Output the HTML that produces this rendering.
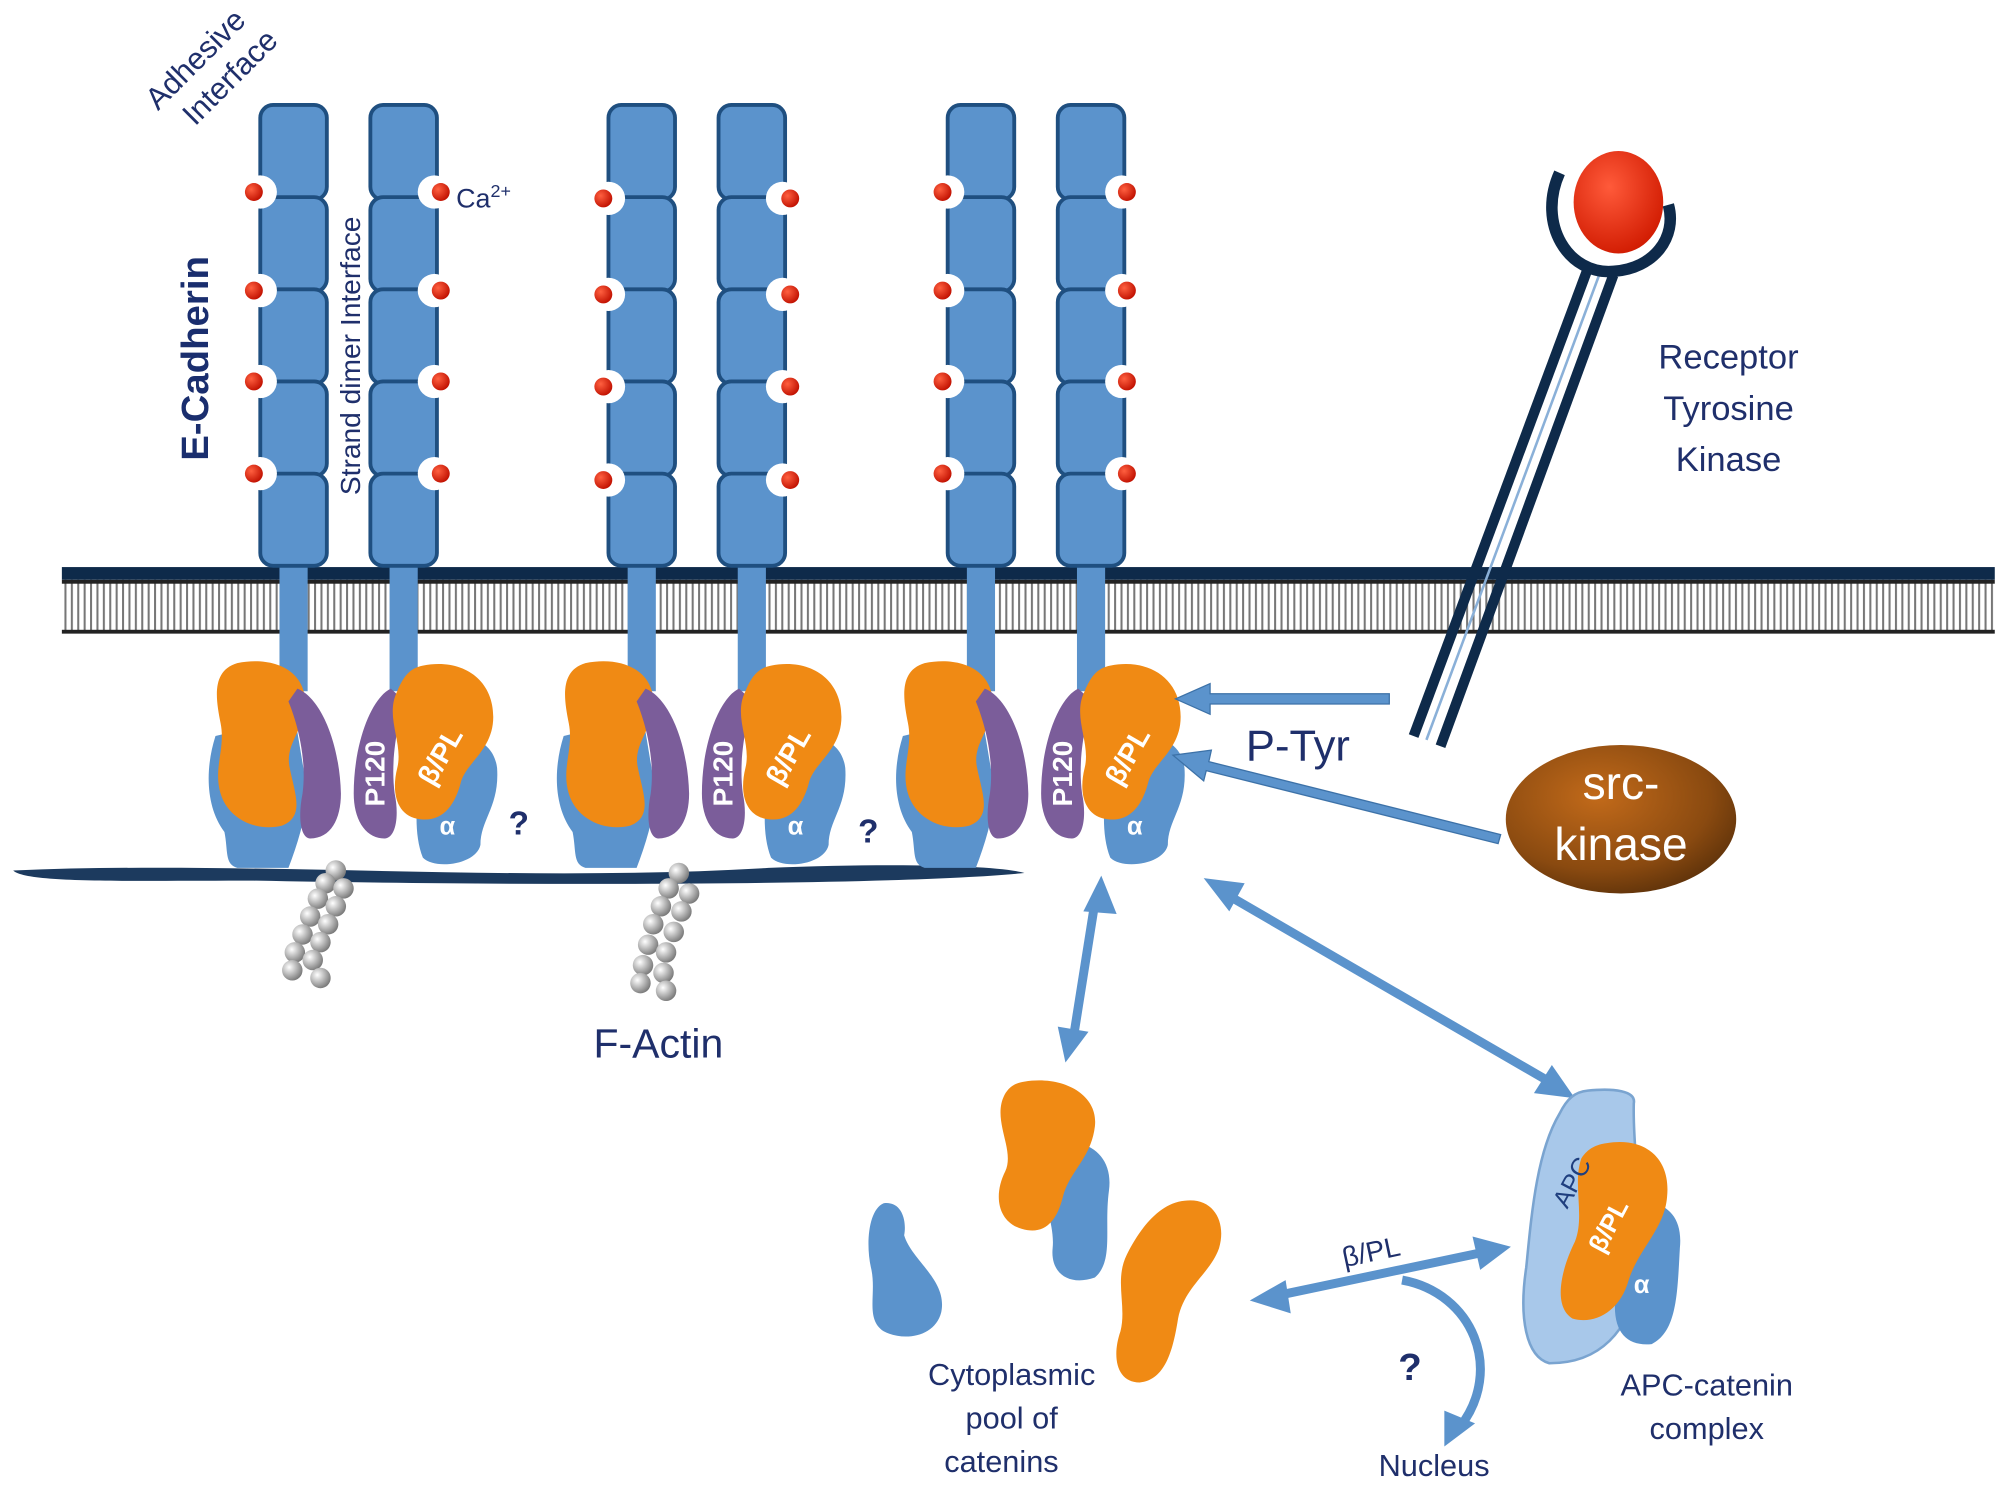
<!DOCTYPE html>
<html><head><meta charset="utf-8"><style>
html,body{margin:0;padding:0;background:#fff}
svg{display:block}
text{font-family:"Liberation Sans","DejaVu Sans",sans-serif;fill:#1f2f6b}
</style></head><body>
<svg width="2008" height="1490" viewBox="0 0 1568 1164" xmlns="http://www.w3.org/2000/svg">
<defs>
<pattern id="hatch" width="5" height="10" patternUnits="userSpaceOnUse">
<rect width="5" height="10" fill="#fff"/><rect x="0" width="1.6" height="10" fill="#777"/>
</pattern>
<radialGradient id="src" cx=".4" cy=".35" r=".7"><stop offset="0" stop-color="#c26a1a"/><stop offset=".7" stop-color="#8a4a10"/><stop offset="1" stop-color="#5e320a"/></radialGradient>
<radialGradient id="red" cx=".4" cy=".35" r=".7"><stop offset="0" stop-color="#ff5a3a"/><stop offset="1" stop-color="#d01a00"/></radialGradient>
<radialGradient id="dot" cx=".35" cy=".35" r=".7"><stop offset="0" stop-color="#ff6040"/><stop offset="1" stop-color="#c01000"/></radialGradient>
<radialGradient id="bead" cx=".35" cy=".35" r=".7"><stop offset="0" stop-color="#fff"/><stop offset="1" stop-color="#777"/></radialGradient>
<g id="col">
<rect x="-26" y="0" width="52" height="74" rx="10" fill="#5b93cc" stroke="#1f4f80" stroke-width="3"/>
<rect x="-26" y="72" width="52" height="74" rx="10" fill="#5b93cc" stroke="#1f4f80" stroke-width="3"/>
<rect x="-26" y="144" width="52" height="74" rx="10" fill="#5b93cc" stroke="#1f4f80" stroke-width="3"/>
<rect x="-26" y="216" width="52" height="74" rx="10" fill="#5b93cc" stroke="#1f4f80" stroke-width="3"/>
<rect x="-26" y="288" width="52" height="72" rx="10" fill="#5b93cc" stroke="#1f4f80" stroke-width="3"/>
</g>
<path id="orange" d="M14,0 C38,-4 52,8 48,28 C45,44 34,50 38,66 C42,82 50,96 42,112 C34,124 8,122 3,104 C-2,88 12,76 8,60 C4,44 -8,22 2,8 C5,3 9,1 14,0Z"/>
<path id="blueS" d="M12,0 C22,-2 26,6 24,16 C22,28 34,40 36,58 C38,80 30,98 20,102 C8,106 -2,98 2,84 C6,70 -4,52 0,36 C3,22 2,4 12,0Z"/>
</defs>

<rect x="48" y="443" width="1510" height="10" fill="#0e2a4a"/>
<rect x="48" y="453" width="1510" height="41" fill="url(#hatch)"/>
<rect x="48" y="453" width="1510" height="3" fill="#222"/>
<rect x="48" y="492" width="1510" height="3" fill="#222"/>

<g stroke="#0e2a4a" stroke-width="8" fill="none">
<line x1="1104" y1="575" x2="1240" y2="210"/>
<line x1="1125" y1="583" x2="1260" y2="215"/>
</g>
<g stroke="#8ab0d8" stroke-width="2" fill="none">
<line x1="1114" y1="578" x2="1250" y2="212"/>
</g>
<path d="M1218,135 C1200,175 1225,215 1260,212 C1292,210 1310,185 1303,160" fill="none" stroke="#0e2a4a" stroke-width="9"/>
<ellipse cx="1264" cy="158" rx="35" ry="40" fill="url(#red)"/>

<g id="pair">
<rect x="218" y="440" width="22" height="100" fill="#5b93cc"/>
<rect x="304" y="440" width="22" height="100" fill="#5b93cc"/>
<use href="#col" x="229" y="82"/>
<use href="#col" x="315" y="82"/>
</g>
<use href="#pair" x="272"/>
<use href="#pair" x="537"/>

<g fill="#fff">
<circle cx="203" cy="150" r="13"/><circle cx="203" cy="227" r="13"/><circle cx="203" cy="298" r="13"/><circle cx="203" cy="370" r="13"/>
<circle cx="339" cy="150" r="13"/><circle cx="339" cy="227" r="13"/><circle cx="339" cy="298" r="13"/><circle cx="339" cy="370" r="13"/>
<circle cx="475" cy="155" r="13"/><circle cx="475" cy="230" r="13"/><circle cx="475" cy="302" r="13"/><circle cx="475" cy="375" r="13"/>
<circle cx="611" cy="155" r="13"/><circle cx="611" cy="230" r="13"/><circle cx="611" cy="302" r="13"/><circle cx="611" cy="375" r="13"/>
<circle cx="740" cy="150" r="13"/><circle cx="740" cy="227" r="13"/><circle cx="740" cy="298" r="13"/><circle cx="740" cy="370" r="13"/>
<circle cx="876" cy="150" r="13"/><circle cx="876" cy="227" r="13"/><circle cx="876" cy="298" r="13"/><circle cx="876" cy="370" r="13"/>
</g>
<g fill="url(#dot)">
<circle cx="198" cy="150" r="7"/><circle cx="198" cy="227" r="7"/><circle cx="198" cy="298" r="7"/><circle cx="198" cy="370" r="7"/>
<circle cx="344" cy="150" r="7"/><circle cx="344" cy="227" r="7"/><circle cx="344" cy="298" r="7"/><circle cx="344" cy="370" r="7"/>
<circle cx="471" cy="155" r="7"/><circle cx="471" cy="230" r="7"/><circle cx="471" cy="302" r="7"/><circle cx="471" cy="375" r="7"/>
<circle cx="617" cy="155" r="7"/><circle cx="617" cy="230" r="7"/><circle cx="617" cy="302" r="7"/><circle cx="617" cy="375" r="7"/>
<circle cx="736" cy="150" r="7"/><circle cx="736" cy="227" r="7"/><circle cx="736" cy="298" r="7"/><circle cx="736" cy="370" r="7"/>
<circle cx="880" cy="150" r="7"/><circle cx="880" cy="227" r="7"/><circle cx="880" cy="298" r="7"/><circle cx="880" cy="370" r="7"/>
</g>

<path d="M10,680 C200,672 400,690 600,678 C700,674 780,676 800,682 C700,692 400,692 200,688 C100,688 20,690 10,680Z" fill="#1c3a5e"/>

<g fill="url(#bead)">
<circle cx="262" cy="680" r="8"/><circle cx="254" cy="690" r="8"/><circle cx="268" cy="694" r="8"/><circle cx="248" cy="702" r="8"/><circle cx="262" cy="708" r="8"/><circle cx="242" cy="716" r="8"/><circle cx="256" cy="722" r="8"/><circle cx="236" cy="730" r="8"/><circle cx="250" cy="736" r="8"/><circle cx="230" cy="744" r="8"/><circle cx="244" cy="750" r="8"/><circle cx="228" cy="758" r="8"/><circle cx="250" cy="764" r="8"/>
<circle cx="530" cy="682" r="8"/><circle cx="522" cy="694" r="8"/><circle cx="538" cy="698" r="8"/><circle cx="516" cy="708" r="8"/><circle cx="532" cy="712" r="8"/><circle cx="510" cy="722" r="8"/><circle cx="526" cy="728" r="8"/><circle cx="506" cy="738" r="8"/><circle cx="520" cy="744" r="8"/><circle cx="502" cy="754" r="8"/><circle cx="518" cy="760" r="8"/><circle cx="500" cy="768" r="8"/><circle cx="520" cy="774" r="8"/>
</g>

<g id="cx">
<path d="M168,575 C160,600 160,630 175,650 C178,665 175,675 185,678 L225,678 C232,660 238,640 240,620 L230,560 Z" fill="#5b93cc"/>
<path d="M185,518 C215,512 240,525 238,552 C236,572 222,582 226,600 C230,620 238,638 220,645 C200,650 178,640 172,620 C166,600 176,585 172,565 C168,545 165,524 185,518Z" fill="#f08a14"/>
<path d="M232,538 C250,545 265,580 266,620 C266,640 258,655 242,655 C235,655 232,640 236,620 C240,590 230,560 225,548 Z" fill="#7b5d9a"/>
<path d="M305,538 C290,545 276,580 276,620 C276,640 285,655 300,655 C308,655 312,640 308,620 C304,590 312,560 316,548 Z" fill="#7b5d9a"/>
<path d="M340,565 C360,575 385,575 388,600 C390,630 375,640 375,660 C372,675 340,680 330,670 C322,650 325,620 330,600 Z" fill="#5b93cc"/>
<path d="M330,520 C360,514 385,530 385,560 C385,585 365,595 360,610 C355,630 345,642 328,640 C310,638 305,620 310,600 C315,580 300,560 310,540 C315,528 320,522 330,520Z" fill="#f08a14"/>
<text x="0" y="0" transform="translate(300,630) rotate(-90)" font-size="22" font-weight="bold" style="fill:#fff">P120</text>
<text x="0" y="0" transform="translate(338,615) rotate(-60)" font-size="22" font-weight="bold" style="fill:#fff">β/PL</text>
<text x="343" y="652" font-size="20" font-weight="bold" style="fill:#fff">α</text>
</g>
<use href="#cx" x="272"/>
<use href="#cx" x="537"/>

<text x="397" y="652" font-size="26" font-weight="bold">?</text>
<text x="670" y="658" font-size="26" font-weight="bold">?</text>

<g fill="#5b93cc" stroke="#3d72a8" stroke-width="1">
<path d="M1085,542 L945,542 L945,534 L918,546 L945,558 L945,550 L1085,550Z"/>
<path d="M1172,652 L944,595 L946,586 L916,590 L940,610 L942,602 L1170,659Z"/>
</g>
<g stroke="#5b93cc" stroke-width="7" fill="none">
<line x1="855" y1="705" x2="838" y2="812"/>
<line x1="960" y1="700" x2="1210" y2="845"/>
<line x1="998" y1="1012" x2="1160" y2="978"/>
<path d="M1095,1000 C1150,1010 1175,1070 1140,1115"/>
</g>
<g fill="#5b93cc">
<path d="M860,684 L846,712 L872,714Z"/>
<path d="M832,830 L826,802 L850,806Z"/>
<path d="M940,686 L972,690 L960,712Z"/>
<path d="M1230,858 L1198,854 L1212,832Z"/>
<path d="M976,1016 L1004,1000 L1008,1026Z"/>
<path d="M1180,974 L1150,966 L1156,992Z"/>
<path d="M1128,1130 L1128,1102 L1152,1112Z"/>
</g>

<ellipse cx="1266" cy="640" rx="90" ry="58" fill="url(#src)"/>
<text x="1266" y="624" font-size="36" text-anchor="middle" style="fill:#fff">src-</text>
<text x="1266" y="672" font-size="36" text-anchor="middle" style="fill:#fff">kinase</text>

<path d="M815,895 C845,885 870,900 866,930 C862,960 870,985 855,998 C835,1005 820,995 822,975 C824,955 812,935 815,915Z" fill="#5b93cc"/>
<path d="M800,845 C830,840 858,855 855,880 C852,905 835,915 830,935 C825,955 815,965 798,960 C780,955 775,935 785,915 C792,900 778,880 782,862 C785,850 792,846 800,845Z" fill="#f08a14"/>
<path d="M690,940 C705,938 708,955 706,965 C712,985 740,1000 735,1025 C730,1045 705,1048 690,1040 C675,1030 685,1010 680,990 C676,972 678,945 690,940Z" fill="#5b93cc"/>
<path d="M925,938 C948,935 958,955 952,975 C945,995 925,1005 920,1030 C916,1055 910,1078 890,1080 C872,1080 868,1060 875,1040 C880,1020 870,1000 880,980 C890,960 905,940 925,938Z" fill="#f08a14"/>

<path d="M1240,852 C1260,850 1278,852 1276,862 C1275,900 1285,960 1280,1000 C1272,1040 1250,1065 1210,1065 C1192,1060 1186,1030 1192,990 C1196,950 1200,900 1218,870 C1224,858 1230,853 1240,852Z" fill="#a8c8ea" stroke="#7aa4d0" stroke-width="2"/>
<path d="M1270,940 C1295,935 1315,945 1312,975 C1310,1010 1310,1040 1290,1050 C1270,1052 1258,1040 1262,1010Z" fill="#5b93cc"/>
<path d="M1255,893 C1285,888 1305,905 1302,935 C1300,960 1280,975 1272,1000 C1265,1025 1245,1035 1228,1030 C1212,1020 1220,990 1230,970 C1238,950 1228,925 1235,905 C1240,897 1247,894 1255,893Z" fill="#f08a14"/>
<text x="0" y="0" transform="translate(1224,945) rotate(-62)" font-size="20" style="fill:#1f3f7f">APC</text>
<text x="0" y="0" transform="translate(1252,980) rotate(-62)" font-size="20" font-weight="bold" style="fill:#fff">β/PL</text>
<text x="1276" y="1010" font-size="20" font-weight="bold" style="fill:#fff">α</text>

<text transform="translate(158,52) rotate(-45)" font-size="24" text-anchor="middle">Adhesive</text>
<text transform="translate(185,66) rotate(-45)" font-size="24" text-anchor="middle">Interface</text>
<text transform="translate(162,280) rotate(-90)" font-size="30" font-weight="bold" text-anchor="middle" style="fill:#1a2e6e">E-Cadherin</text>
<text transform="translate(281,278) rotate(-90)" font-size="22" text-anchor="middle">Strand dimer Interface</text>
<text x="356" y="162" font-size="21">Ca<tspan font-size="14" dy="-8">2+</tspan></text>
<text x="1350" y="288" font-size="27" text-anchor="middle">Receptor</text>
<text x="1350" y="328" font-size="27" text-anchor="middle">Tyrosine</text>
<text x="1350" y="368" font-size="27" text-anchor="middle">Kinase</text>
<text x="973" y="594" font-size="34">P-Tyr</text>
<text x="514" y="826" font-size="32" text-anchor="middle">F-Actin</text>
<text x="790" y="1082" font-size="24" text-anchor="middle">Cytoplasmic</text>
<text x="790" y="1116" font-size="24" text-anchor="middle">pool of</text>
<text x="782" y="1150" font-size="24" text-anchor="middle">catenins</text>
<text x="0" y="0" transform="translate(1050,990) rotate(-12)" font-size="22">β/PL</text>
<text x="1092" y="1078" font-size="30" font-weight="bold">?</text>
<text x="1120" y="1153" font-size="24" text-anchor="middle">Nucleus</text>
<text x="1333" y="1090" font-size="24" text-anchor="middle">APC-catenin</text>
<text x="1333" y="1124" font-size="24" text-anchor="middle">complex</text>
</svg>
</body></html>
